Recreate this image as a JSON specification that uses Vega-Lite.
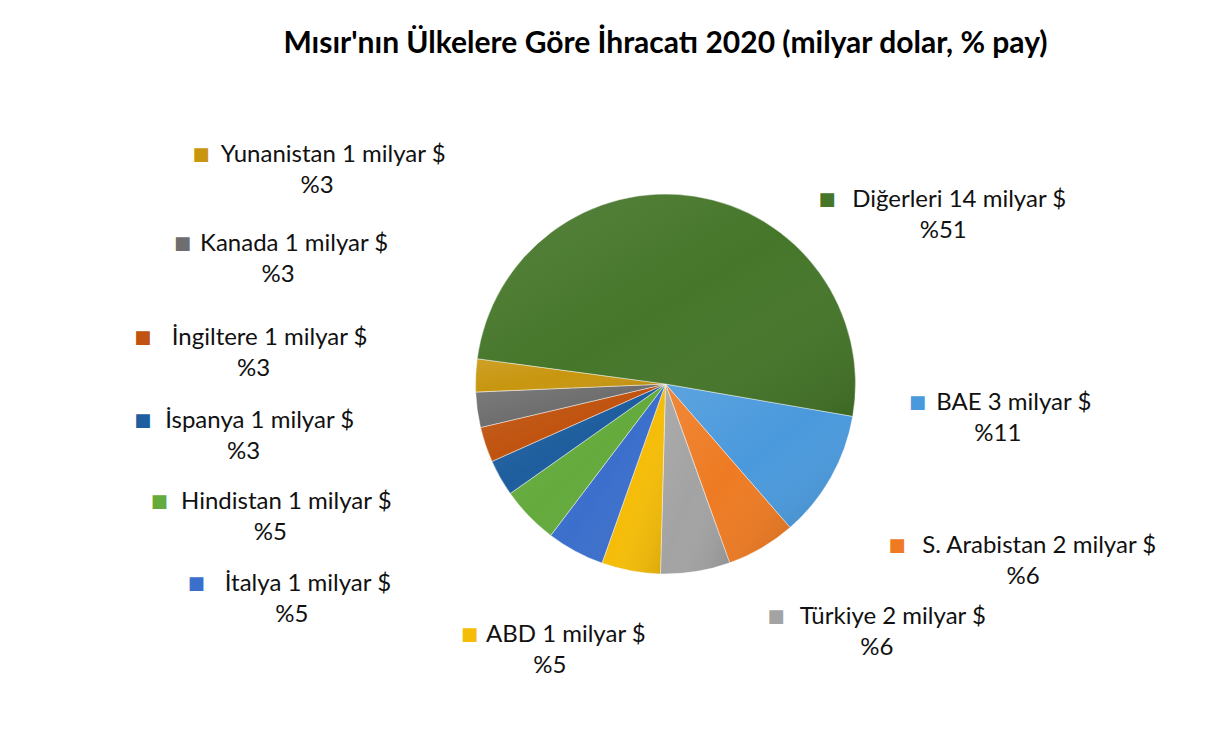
{
  "$schema": "https://vega.github.io/schema/vega-lite/v6.json",
  "autosize": {"type": "none"},
  "padding": {"left": 112, "top": 80, "right": 0, "bottom": 49},
  "width": 1107,
  "height": 608,
  "background": "white",
  "config": {"view": {"stroke": null}, "font": "Lato"},
  "title": {
    "text": "Mısır'nın Ülkelere Göre İhracatı 2020 (milyar dolar, % pay)",
    "font": "Lato",
    "fontSize": 30,
    "fontWeight": "bold",
    "color": "#000000",
    "offset": 21,
    "anchor": "middle"
  },
  "data": {
    "values": [
      {"k": 1, "ulke": "BAE", "milyar": 3, "pay": 11, "oran": 10.9, "etiket": "BAE 3 milyar $", "yuzde": "%11"},
      {"k": 2, "ulke": "S. Arabistan", "milyar": 2, "pay": 6, "oran": 5.9, "etiket": "S. Arabistan 2 milyar $", "yuzde": "%6"},
      {"k": 3, "ulke": "Türkiye", "milyar": 2, "pay": 6, "oran": 5.9, "etiket": "Türkiye 2 milyar $", "yuzde": "%6"},
      {"k": 4, "ulke": "ABD", "milyar": 1, "pay": 5, "oran": 5.0, "etiket": "ABD 1 milyar $", "yuzde": "%5"},
      {"k": 5, "ulke": "İtalya", "milyar": 1, "pay": 5, "oran": 4.9, "etiket": "İtalya 1 milyar $", "yuzde": "%5"},
      {"k": 6, "ulke": "Hindistan", "milyar": 1, "pay": 5, "oran": 4.9, "etiket": "Hindistan 1 milyar $", "yuzde": "%5"},
      {"k": 7, "ulke": "İspanya", "milyar": 1, "pay": 3, "oran": 3.1, "etiket": "İspanya 1 milyar $", "yuzde": "%3"},
      {"k": 8, "ulke": "İngiltere", "milyar": 1, "pay": 3, "oran": 3.0, "etiket": "İngiltere 1 milyar $", "yuzde": "%3"},
      {"k": 9, "ulke": "Kanada", "milyar": 1, "pay": 3, "oran": 3.0, "etiket": "Kanada 1 milyar $", "yuzde": "%3"},
      {"k": 10, "ulke": "Yunanistan", "milyar": 1, "pay": 3, "oran": 2.8, "etiket": "Yunanistan 1 milyar $", "yuzde": "%3"},
      {"k": 11, "ulke": "Diğerleri", "milyar": 14, "pay": 51, "oran": 50.6, "etiket": "Diğerleri 14 milyar $", "yuzde": "%51"}
    ]
  },
  "layer": [
    {
      "mark": {"type": "arc", "outerRadius": 190, "stroke": "#ffffff", "strokeWidth": 1, "strokeOpacity": 0.45},
      "encoding": {
        "theta": {"field": "oran", "type": "quantitative", "stack": true, "scale": {"domain": [0, 100], "range": [1.7419, 8.0251]}},
        "order": {"field": "k", "type": "quantitative"},
        "color": {
          "field": "ulke", "type": "nominal", "legend": null,
          "scale": {
            "domain": ["BAE", "S. Arabistan", "Türkiye", "ABD", "İtalya", "Hindistan", "İspanya", "İngiltere", "Kanada", "Yunanistan", "Diğerleri"],
            "range": ["#4A99DC", "#EE7B23", "#A3A3A3", "#F5BD08", "#3B6FCC", "#64AA3C", "#1E5E9E", "#C0530F", "#6E6E6E", "#C8960F", "#457629"]
          }
        }
      }
    },
    {
      "mark": {
        "type": "arc", "outerRadius": 190,
        "fill": {"gradient": "linear", "x1": 0, "y1": 0, "x2": 1, "y2": 1, "stops": [{"offset": 0, "color": "rgba(255,255,255,0.10)"}, {"offset": 0.5, "color": "rgba(255,255,255,0)"}, {"offset": 1, "color": "rgba(0,0,0,0.12)"}]}
      },
      "encoding": {
        "theta": {"field": "oran", "type": "quantitative", "stack": true, "scale": {"domain": [0, 100], "range": [1.7419, 8.0251]}},
        "order": {"field": "k", "type": "quantitative"}
      }
    },
    {
      "mark": {"type": "text", "font": "Lato", "fontSize": 24, "dx": 16, "dy": -15, "color": "#111111"},
      "encoding": {
        "theta": {"field": "k", "type": "quantitative", "stack": null, "scale": {"type": "linear", "zero": false, "domain": [1, 2, 3, 4, 5, 6, 7, 8, 9, 10, 11], "range": [1.6720, 2.0298, 2.4365, 3.5518, 4.1905, 4.3877, 4.5902, 4.7874, 5.0248, 5.2639, 1.0245]}},
        "radius": {"field": "k", "type": "quantitative", "scale": {"type": "linear", "zero": false, "domain": [1, 2, 3, 4, 5, 6, 7, 8, 9, 10, 11], "range": [334, 399, 326, 290, 431, 417, 425, 413, 407, 409, 325]}},
        "text": {"field": "etiket"}
      }
    },
    {
      "mark": {"type": "text", "font": "Lato", "fontSize": 24, "dy": 16, "color": "#111111"},
      "encoding": {
        "theta": {"field": "k", "type": "quantitative", "stack": null, "scale": {"type": "linear", "zero": false, "domain": [1, 2, 3, 4, 5, 6, 7, 8, 9, 10, 11], "range": [1.6720, 2.0298, 2.4365, 3.5518, 4.1905, 4.3877, 4.5902, 4.7874, 5.0248, 5.2639, 1.0245]}},
        "radius": {"field": "k", "type": "quantitative", "scale": {"type": "linear", "zero": false, "domain": [1, 2, 3, 4, 5, 6, 7, 8, 9, 10, 11], "range": [334, 399, 326, 290, 431, 417, 425, 413, 407, 409, 325]}},
        "text": {"field": "yuzde"}
      }
    },
    {
      "mark": {"type": "text", "font": "DejaVu Sans", "fontSize": 18, "dy": -15, "dx": {"expr": "-length(datum.etiket) * 5.1 - 9"}},
      "encoding": {
        "theta": {"field": "k", "type": "quantitative", "stack": null, "scale": {"type": "linear", "zero": false, "domain": [1, 2, 3, 4, 5, 6, 7, 8, 9, 10, 11], "range": [1.6720, 2.0298, 2.4365, 3.5518, 4.1905, 4.3877, 4.5902, 4.7874, 5.0248, 5.2639, 1.0245]}},
        "radius": {"field": "k", "type": "quantitative", "scale": {"type": "linear", "zero": false, "domain": [1, 2, 3, 4, 5, 6, 7, 8, 9, 10, 11], "range": [334, 399, 326, 290, 431, 417, 425, 413, 407, 409, 325]}},
        "text": {"value": "■"},
        "color": {
          "field": "ulke", "type": "nominal", "legend": null,
          "scale": {
            "domain": ["BAE", "S. Arabistan", "Türkiye", "ABD", "İtalya", "Hindistan", "İspanya", "İngiltere", "Kanada", "Yunanistan", "Diğerleri"],
            "range": ["#4A99DC", "#EE7B23", "#A3A3A3", "#F5BD08", "#3B6FCC", "#64AA3C", "#1E5E9E", "#C0530F", "#6E6E6E", "#C8960F", "#457629"]
          }
        }
      }
    }
  ],
  "resolve": {"scale": {"theta": "independent", "radius": "independent"}}
}
